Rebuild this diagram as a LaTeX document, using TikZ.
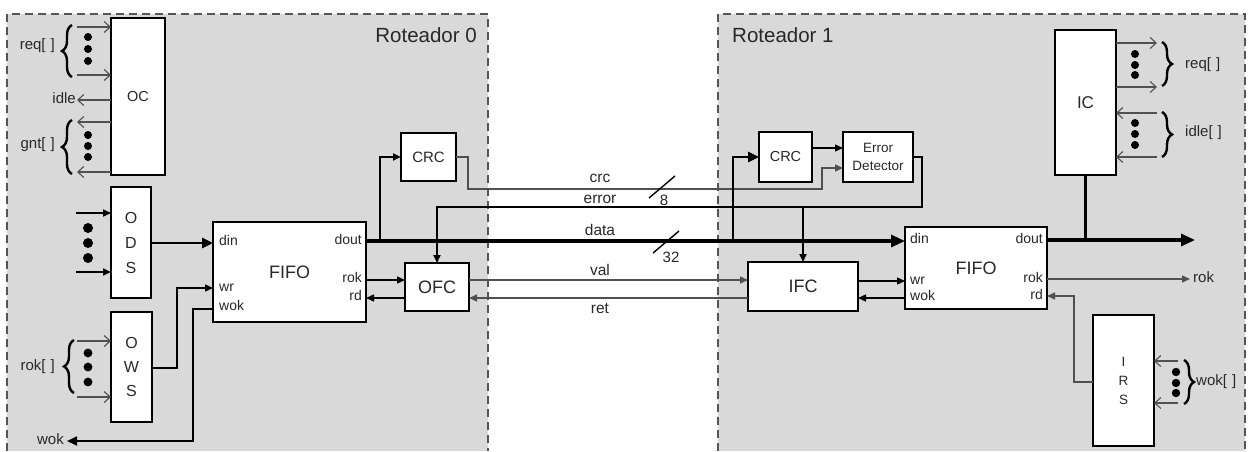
\documentclass[tikz,border=0pt]{standalone}
\usepackage{fontspec}
\setmainfont{Liberation Sans}
\usetikzlibrary{arrows.meta,decorations.pathreplacing,calc}
\definecolor{bg}{RGB}{217,217,217}
\definecolor{frame}{RGB}{85,85,85}
\definecolor{txt}{RGB}{40,40,40}
\definecolor{wire}{RGB}{80,80,80}
\begin{document}
\begin{tikzpicture}[x=1pt,y=-1pt,
  box/.style={draw=black, fill=white, line width=1.4pt, inner sep=0pt, outer sep=0pt, anchor=north west, text=txt, align=center},
  lbl/.style={inner sep=0pt, text=txt, font=\fontsize{15}{18}\selectfont},
  midlbl/.style={inner sep=0pt, text=txt, font=\fontsize{15.5}{18}\selectfont, anchor=base},
  port/.style={inner sep=0pt, text=txt, font=\fontsize{14}{16}\selectfont},
  thinw/.style={draw=wire, line width=1.2pt},
  openarr/.style={thinw, -{Straight Barb[length=6pt,width=11pt,line width=1.1pt]}},
  fillarr/.style={draw=black, line width=1.4pt, -{Triangle[length=8pt,width=7pt]}},
  greyarr/.style={draw=wire, line width=1.3pt, -{Triangle[length=8pt,width=7pt]}},
  medbus/.style={draw=black, line width=2.6pt, -{Triangle[length=11pt,width=10pt]}},
  busarr/.style={draw=black, line width=3.2pt, -{Triangle[length=14pt,width=12pt]}},
  brc/.style={draw=black, decorate, decoration={brace, amplitude=10pt}, line width=2.4pt},
  bdot/.style={fill=black},
  dashedge/.style={draw=frame, line width=1.5pt, dash pattern=on 8pt off 5pt},
]
\useasboundingbox (0,0) rectangle (1248,451);
\fill[white] (0,0) rectangle (1248,451);

% router regions
\fill[bg] (7,14) rectangle (488,451);
\draw[dashedge] (7,451) -- (7,14) -- (488,14) -- (488,451);
\fill[bg] (718,14) rectangle (1245,451);
\draw[dashedge] (718,451) -- (718,14) -- (1245,14) -- (1245,451);
\node[inner sep=0pt, text=txt, font=\fontsize{20.5}{24}\selectfont, anchor=base east] (r0) at (477,42) {Roteador 0};
\node[inner sep=0pt, text=txt, font=\fontsize{20.5}{24}\selectfont, anchor=base west] (r1) at (732,42) {Roteador 1};

% boxes
\node[box, minimum width=54pt, minimum height=157pt, font=\fontsize{14.5}{17}\selectfont] (oc) at (111,18) {OC};
\node[box, minimum width=40pt, minimum height=111pt, font=\fontsize{16}{25}\selectfont] (ods) at (111,187) {O\\D\\S};
\node[box, minimum width=41pt, minimum height=110pt, font=\fontsize{16}{24}\selectfont] (ows) at (111,312) {O\\W\\S};
\node[box, minimum width=153pt, minimum height=100pt, font=\fontsize{18}{20}\selectfont] (fifoL) at (213,222) {FIFO};
\node[box, minimum width=55pt, minimum height=48pt, font=\fontsize{15}{18}\selectfont] (crcL) at (401,133) {CRC};
\node[box, minimum width=64pt, minimum height=48pt, font=\fontsize{18}{20}\selectfont] (ofc) at (405,263) {OFC};
\node[box, minimum width=53pt, minimum height=50pt, font=\fontsize{14.5}{17}\selectfont] (crcR) at (759,132) {CRC};
\node[box, minimum width=70pt, minimum height=50pt, font=\fontsize{13.5}{18}\selectfont] (ed) at (843,132) {Error\\Detector};
\node[box, minimum width=110pt, minimum height=49pt, font=\fontsize{18}{20}\selectfont] (ifc) at (748,262) {IFC};
\node[box, minimum width=142pt, minimum height=82pt, font=\fontsize{18}{20}\selectfont] (fifoR) at (905,227) {FIFO};
\node[box, minimum width=61pt, minimum height=145pt, font=\fontsize{17}{20}\selectfont] (ic) at (1055,30) {IC};
\node[box, minimum width=61pt, minimum height=131pt, font=\fontsize{13.5}{19}\selectfont] (irs) at (1093,315) {I\\R\\S};

% port labels
\node[port, anchor=mid west] (pdinL) at (219,243) {din};
\node[port, anchor=mid west] (pwrL) at (219,289) {wr};
\node[port, anchor=mid west] (pwokL) at (219,308) {wok};
\node[port, anchor=mid east] (pdoutL) at (362,242) {dout};
\node[port, anchor=mid east] (prokL) at (362,280) {rok};
\node[port, anchor=mid east] (prdL) at (362,298) {rd};
\node[port, anchor=mid west] (pdinR) at (910,241) {din};
\node[port, anchor=mid west] (pwrR) at (910,282) {wr};
\node[port, anchor=mid west] (pwokR) at (910,298) {wok};
\node[port, anchor=mid east] (pdoutR) at (1043,241) {dout};
\node[port, anchor=mid east] (prokR) at (1043,280) {rok};
\node[port, anchor=mid east] (prdR) at (1043,297) {rd};

% ---------- router 0, left side ----------
\coordinate (reqL1) at (77,27);
\coordinate (reqL2) at (77,75);
\draw[openarr] (reqL1) -- (reqL1 -| oc.west);
\draw[openarr] (reqL2) -- (reqL2 -| oc.west);
\foreach \yy in {37,49,61} \fill[bdot] (88,\yy) circle (4pt);
\draw[brc] (72,77) -- (72,25);
\node[lbl, anchor=mid east] (reqLt) at (55,47) {req[\,\,]};

\coordinate (idleL) at (77,100);
\draw[openarr] (idleL -| oc.west) -- (idleL);
\node[lbl, anchor=mid east] (idleLt) at (76,101) {idle};

\coordinate (gntL1) at (77,122);
\coordinate (gntL2) at (77,172);
\draw[openarr] (gntL1 -| oc.west) -- (gntL1);
\draw[openarr] (gntL2 -| oc.west) -- (gntL2);
\foreach \yy in {135,146,157} \fill[bdot] (88,\yy) circle (4pt);
\draw[brc] (72,174) -- (72,120);
\node[lbl, anchor=mid east] (gntLt) at (55,146) {gnt[\,\,]};

\coordinate (odsA) at (76,213);
\coordinate (odsB) at (76,272);
\draw[fillarr, line width=1.8pt] (odsA) -- (odsA -| ods.west);
\draw[fillarr, line width=1.8pt] (odsB) -- (odsB -| ods.west);
\foreach \yy in {228,243,258} \fill[bdot] (88,\yy) circle (5pt);
\draw[medbus] (ods.east |- 0,243) -- (fifoL.west |- 0,243);

\coordinate (rokL1) at (77,341);
\coordinate (rokL2) at (77,397);
\draw[openarr] (rokL1) -- (rokL1 -| ows.west);
\draw[openarr] (rokL2) -- (rokL2 -| ows.west);
\foreach \yy in {353,367,382} \fill[bdot] (88,\yy) circle (4.4pt);
\draw[brc] (74,393) -- (74,340);
\node[lbl, anchor=mid east] (rokLt) at (55,368) {rok[\,\,]};

\draw[fillarr] (ows.east |- 0,368) -| (177,288) -- (fifoL.west |- 0,288);
\coordinate (wokL) at (67,441);
\draw[fillarr, line width=1.7pt, -{Triangle[length=10pt,width=9pt]}] (fifoL.west |- 0,309) -| (193,441) -- (wokL);
\node[lbl, anchor=mid east] (wokLt) at (64,442) {wok};

% ---------- data bus and CRC / error ----------
\draw[busarr] (fifoL.east |- 0,241) -- (fifoR.west |- 0,241);
\draw[fillarr, line width=2pt] (380,241) |- (crcL.west);
\draw[greyarr] (crcL.east) -| (468,189) -- (822,189) -- (822,168) -- (ed.west |- 0,168);
\draw[medbus] (733,241) |- (crcR.west);
\draw[fillarr, line width=1.3pt] (crcR.east |- 0,148) -- (ed.west |- 0,148);
\draw[fillarr, line width=1.7pt] (ed.east) -| (922,207) -- (437,207) -- (ofc.north);
\draw[fillarr, line width=1.7pt] (803,207) -- (ifc.north);

\draw[line width=1.4pt] (649,198) -- (675,176);
\draw[line width=1.4pt] (653,253) -- (679,231);
\node[lbl, anchor=center] (w8) at (664,200) {8};
\node[lbl, anchor=center] (w32) at (671,257) {32};

\node[midlbl] (tcrc) at (600,182) {crc};
\node[midlbl] (terr) at (600,203) {error};
\node[midlbl] (tdata) at (600,235) {data};
\node[midlbl] (tval) at (600,275) {val};
\node[midlbl] (tret) at (600,313) {ret};

% ---------- flow control ----------
\draw[fillarr] (fifoL.east |- 0,280) -- (ofc.west |- 0,280);
\draw[fillarr] (ofc.west |- 0,298) -- (fifoL.east |- 0,298);
\draw[greyarr] (ofc.east |- 0,280) -- (ifc.west |- 0,280);
\draw[greyarr] (ifc.west |- 0,298) -- (ofc.east |- 0,298);
\draw[fillarr] (ifc.east |- 0,281) -- (fifoR.west |- 0,281);
\draw[fillarr] (fifoR.west |- 0,298) -- (ifc.east |- 0,298);

% ---------- router 1, right side ----------
\coordinate (doutEnd) at (1195,240);
\draw[busarr] (fifoR.east |- 0,240) -- (doutEnd);
\draw[line width=3.2pt] (ic.south) -- (ic.south |- 0,240);
\coordinate (rokEnd) at (1190,279);
\draw[greyarr] (fifoR.east |- 0,279) -- (rokEnd);
\node[lbl, anchor=mid west] (rokRt) at (1193,280) {rok};
\draw[greyarr] (irs.west |- 0,382) -| (1074,296) -- (fifoR.east |- 0,296);

\coordinate (wokR1) at (1178,361);
\coordinate (wokR2) at (1178,403);
\draw[openarr] (wokR1) -- (wokR1 -| irs.east);
\draw[openarr] (wokR2) -- (wokR2 -| irs.east);
\foreach \yy in {372,383,393} \fill[bdot] (1176,\yy) circle (4.2pt);
\draw[brc] (1184,360) -- (1184,404);
\node[lbl, anchor=mid west] (wokRt) at (1196,383) {wok[\,\,]};

\coordinate (reqR1) at (1157,43);
\coordinate (reqR2) at (1157,87);
\draw[openarr] (reqR1 -| ic.east) -- (reqR1);
\draw[openarr] (reqR2 -| ic.east) -- (reqR2);
\foreach \yy in {54,65,75} \fill[bdot] (1135,\yy) circle (4pt);
\draw[brc] (1162,42) -- (1162,86);
\node[lbl, anchor=mid west] (reqRt) at (1185,66) {req[\,\,]};

\coordinate (idleR1) at (1157,113);
\coordinate (idleR2) at (1157,157);
\draw[openarr] (idleR1) -- (idleR1 -| ic.east);
\draw[openarr] (idleR2) -- (idleR2 -| ic.east);
\foreach \yy in {123,134,145} \fill[bdot] (1135,\yy) circle (4pt);
\draw[brc] (1162,112) -- (1162,157);
\node[lbl, anchor=mid west] (idleRt) at (1185,134) {idle[\,\,]};
\end{tikzpicture}
\end{document}
